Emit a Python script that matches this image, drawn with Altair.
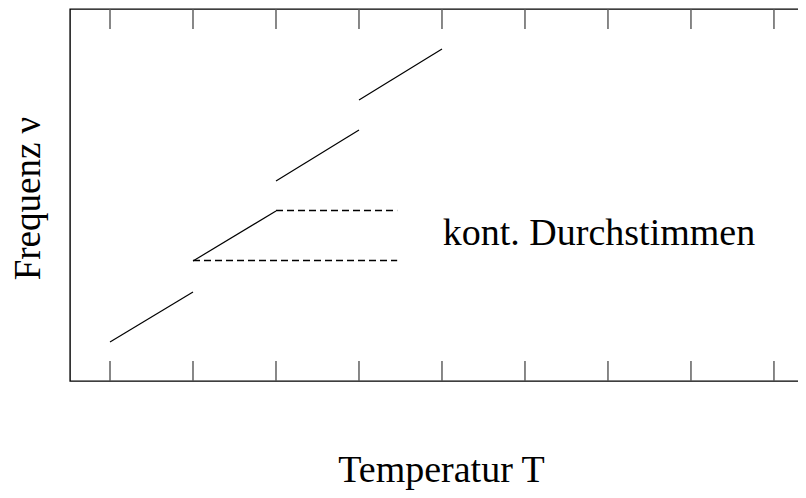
import altair as alt
import pandas as pd

# --- data ---
X_DOMAIN = [0.518, 9.386]          # temperature axis range (arbitrary units)
Y_DOMAIN = [0.0, 37.2]             # frequency axis range (arbitrary units)
TICKS_T = [1, 2, 3, 4, 5, 6, 7, 8, 9]

SEG_T_START = [1, 2, 3, 4]
SEG_T_END = [2, 3, 4, 5]
SEG_NU_START = [3.9, 12.0, 20.0, 28.1]
SEG_NU_END = [8.9, 17.0, 25.1, 33.2]

DASH_T_START = [2, 3]
DASH_T_END = [4.46, 4.46]
DASH_NU = [12.05, 17.05]

LABEL_TEXT = ["kont. Durchstimmen"]
LABEL_T = [5.01]
LABEL_NU = [13.6]

TICK_LEN = 2.0  # in frequency units

FONT = "Liberation Serif"
FS = 38

segs = pd.DataFrame({"t": SEG_T_START, "t2": SEG_T_END,
                     "nu": SEG_NU_START, "nu2": SEG_NU_END})
dashes = pd.DataFrame({"t": DASH_T_START, "t2": DASH_T_END, "nu": DASH_NU})
ticks_top = pd.DataFrame({"t": TICKS_T,
                          "nu": [Y_DOMAIN[1]] * len(TICKS_T),
                          "nu2": [Y_DOMAIN[1] - TICK_LEN] * len(TICKS_T)})
ticks_bot = pd.DataFrame({"t": TICKS_T,
                          "nu": [Y_DOMAIN[0]] * len(TICKS_T),
                          "nu2": [Y_DOMAIN[0] + TICK_LEN] * len(TICKS_T)})
labels = pd.DataFrame({"t": LABEL_T, "nu": LABEL_NU, "txt": LABEL_TEXT})

xs = alt.Scale(domain=X_DOMAIN, nice=False, zero=False)
ys = alt.Scale(domain=Y_DOMAIN, nice=False, zero=False)

W, H = 736, 372

x_axis = alt.Axis(orient="bottom", domain=False, ticks=False, labels=False,
                  grid=False, title="Temperatur T", titleFont=FONT,
                  titleFontSize=FS, titleFontWeight="normal", titleColor="black",
                  titleX=371, titleY=100, titleAlign="center",
                  titleBaseline="alphabetic", titleAngle=0)
y_axis = alt.Axis(orient="left", domain=False, ticks=False, labels=False,
                  grid=False, title="Frequenz ν", titleFont=FONT,
                  titleFontSize=37, titleFontWeight="normal", titleColor="black",
                  titleX=-31, titleY=189, titleAlign="center",
                  titleBaseline="alphabetic", titleAngle=270)


def X(field):
    return alt.X(field, scale=xs, axis=x_axis)


def Y(field):
    return alt.Y(field, scale=ys, axis=y_axis)


seg_layer = alt.Chart(segs).mark_rule(color="black", strokeWidth=1.2).encode(
    x=X("t:Q"), x2="t2:Q", y=Y("nu:Q"), y2="nu2:Q",
)

dash_layer = alt.Chart(dashes).mark_rule(color="#000", strokeWidth=1.4,
                                         strokeDash=[7, 4]).encode(
    x=X("t:Q"), x2="t2:Q", y=Y("nu:Q"),
)

tick_top_layer = alt.Chart(ticks_top).mark_rule(color="#555", strokeWidth=1.4).encode(
    x=X("t:Q"), y=Y("nu:Q"), y2="nu2:Q",
)

tick_bot_layer = alt.Chart(ticks_bot).mark_rule(color="#555", strokeWidth=1.4).encode(
    x=X("t:Q"), y=Y("nu:Q"), y2="nu2:Q",
)

text_layer = alt.Chart(labels).mark_text(align="left", baseline="alphabetic",
                                         font=FONT, fontSize=FS,
                                         color="black").encode(
    x=X("t:Q"), y=Y("nu:Q"), text="txt:N",
)

chart = alt.layer(seg_layer, dash_layer, tick_top_layer, tick_bot_layer,
                  text_layer).properties(
    width=W, height=H,
    autosize=alt.AutoSizeParams(type="none"),
    padding={"left": 62, "top": 1, "right": -8, "bottom": 109},
    background="white",
).configure_view(stroke="black", strokeWidth=1.4)

chart.save("out.html", embed_options={"renderer": "svg", "actions": False})
